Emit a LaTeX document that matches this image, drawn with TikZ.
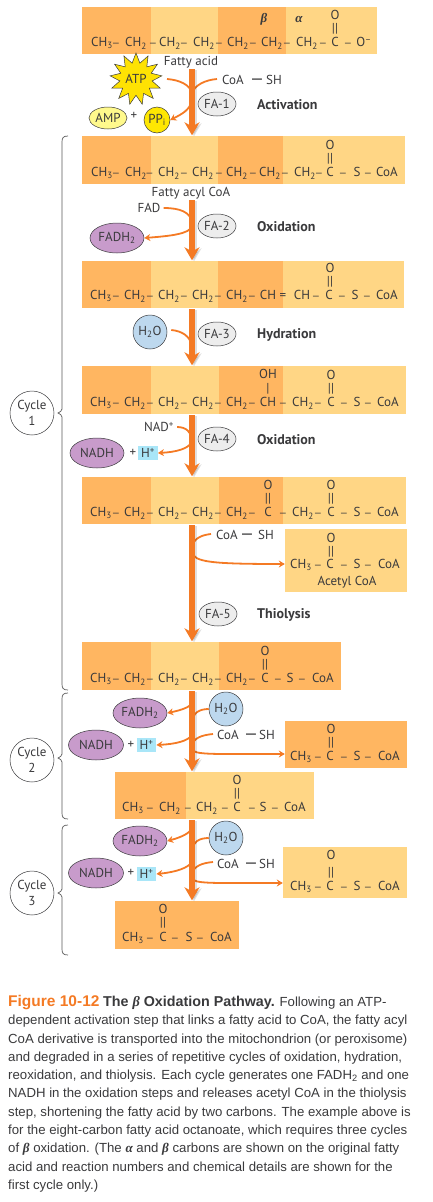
\documentclass[tikz,border=0pt]{standalone}
\usepackage{fontspec}
\setmainfont{PT Sans}
\newfontfamily\capfont{Liberation Sans}
\newfontfamily\grkfont{Liberation Serif}
\usetikzlibrary{arrows.meta,shapes.geometric,fit}
\definecolor{dk}{HTML}{FFB661}
\definecolor{lt}{HTML}{FFD685}
\definecolor{org}{HTML}{F47A24}
\definecolor{ink}{HTML}{3A3A3C}
\definecolor{purp}{HTML}{C89BCB}
\definecolor{wat}{HTML}{BDD8EE}
\definecolor{hpl}{HTML}{A9E6F8}
\newcommand{\chA}{CH\textsubscript{3}}
\newcommand{\chB}{CH\textsubscript{2}}
\newcommand{\bd}{{\fontsize{10}{10}\selectfont —}}
\newcommand{\bdl}{{\fontsize{17}{17}\selectfont —}}
\newcommand{\grk}[1]{{\grkfont\bfseries\itshape #1}}
\newcommand{\atoms}[3]{\foreach \x/\lab [count=\i] in {#3} {\node[atom] (#1-\i) at (\x,#2) {\lab};}}
\newcommand{\oxo}[4][13]{\node[atom] (#2-o) at (#3,#4) {O};\node[atom] (#2-b) at (#3,#4+#1) {||};}
\newcommand{\bandfit}[5]{\node[inner sep=0pt,fit={(#2,#4)(#3,#5)}] (#1) {};}
\newcommand{\mainarr}[2]{\draw[shad] #1 -- #2;\draw[mainarrow] #1 -- #2;}
\newcommand{\bracket}[4]{\draw[brk] (68,#1) .. controls (63,#1) and (62,#1+2) .. (62,#1+6) -- (62,#2-4) .. controls (62,#2-2) and (60,#2-1) .. (58,#2) .. controls (60,#2+1) and (62,#2+2) .. (62,#2+4) -- (62,#3-6) .. controls (62,#3-2) and (63,#3) .. (68,#3);}
\tikzset{
  lf/.style={font=\fontsize{13}{14}\selectfont},
  atom/.style={anchor=base,inner sep=0pt,text=ink,yshift=-.7pt,lf},
  txt/.style={inner sep=0pt,text=ink,lf},
  bold/.style={anchor=west,inner sep=0pt,text=ink,yshift=-1pt,font=\fontsize{14}{15}\selectfont\bfseries},
  fanode/.style={ellipse,draw=ink,line width=.5pt,fill=black!7,minimum width=38pt,minimum height=24pt,inner sep=0pt,text=ink,lf},
  purple/.style={ellipse,draw=ink,line width=.5pt,fill=purp,inner sep=0pt,text=ink,lf},
  water/.style={circle,draw=ink,line width=.5pt,fill=wat,minimum size=34pt,inner sep=0pt,text=ink,lf},
  cyc/.style={circle,draw=ink,line width=.5pt,fill=white,minimum size=44pt,inner sep=0pt,align=center,text=ink,font=\fontsize{13}{16}\selectfont},
  hplus/.style={fill=hpl,inner sep=0pt,text=ink,minimum width=19.5pt,minimum height=14pt,lf},
  mainarrow/.style={draw=org,line width=6pt,shorten <=1pt,shorten >=.5pt,-{Stealth[width=15pt,length=13pt]}},
  shad/.style={draw=black,opacity=.12,line width=6pt,shorten <=1pt,shorten >=.5pt,-{Stealth[width=15pt,length=13pt]},transform canvas={xshift=2pt,yshift=-1pt}},
  side/.style={draw=org,line width=1.8pt},
  sidearrow/.style={draw=org,line width=1.8pt,-{Stealth[width=7pt,length=6pt]}},
  brk/.style={draw=black!65,line width=.7pt},
}
\begin{document}
\begin{tikzpicture}[x=1pt,y=-1pt]
\useasboundingbox (0,0) rectangle (433,1202);
\coordinate (m) at (192,0);
% ---------- bands
\fill[dk] (82,7) rectangle (151,54); \fill[lt] (151,7) rectangle (218,54); \fill[dk] (218,7) rectangle (286,54); \fill[lt] (286,7) rectangle (377,54);
\bandfit{band0}{82}{377}{7}{54}
\fill[dk] (82,136) rectangle (151,184); \fill[lt] (151,136) rectangle (218,184); \fill[dk] (218,136) rectangle (283,184); \fill[lt] (283,136) rectangle (405,184);
\bandfit{band1}{82}{405}{136}{184}
\fill[dk] (82,261) rectangle (151,308); \fill[lt] (151,261) rectangle (218,308); \fill[dk] (218,261) rectangle (283,308); \fill[lt] (283,261) rectangle (404,308);
\bandfit{band2}{82}{404}{261}{308}
\fill[dk] (82,366) rectangle (151,414); \fill[lt] (151,366) rectangle (219,414); \fill[dk] (219,366) rectangle (283,414); \fill[lt] (283,366) rectangle (406,414);
\bandfit{band3}{82}{406}{366}{414}
\fill[dk] (82,477) rectangle (151,524); \fill[lt] (151,477) rectangle (219,524); \fill[dk] (219,477) rectangle (283,524); \fill[lt] (283,477) rectangle (406,524);
\bandfit{band4}{82}{406}{477}{524}
\fill[dk] (82,642) rectangle (151,690); \fill[lt] (151,642) rectangle (219,690); \fill[dk] (219,642) rectangle (341,690);
\bandfit{band5}{82}{341}{642}{690}
\fill[lt] (285,529) rectangle (407,592);
\bandfit{acetyl}{285}{407}{529}{592}
\fill[dk] (285,721) rectangle (407,768);
\bandfit{box2}{285}{407}{721}{768}
\fill[dk] (115,772) rectangle (186,819); \fill[lt] (186,772) rectangle (314,819);
\bandfit{band6}{115}{314}{772}{819}
\fill[lt] (283,847) rectangle (407,898);
\bandfit{box3}{283}{407}{847}{898}
\fill[dk] (115,901) rectangle (239,949);
\bandfit{band7}{115}{239}{901}{949}
% ---------- formulas
\atoms{a0}{46}{102/\chA,116/\bd,136/\chB,153/\bd,170/\chB,184/\bd,204/\chB,219/\bd,238/\chB,253/\bd,272/\chB,287/\bd,307/\chB,323/\bd,335/C,348/\bd,364/O\textsuperscript{--}}
\oxo{a0}{335}{19}
\node[atom,font=\fontsize{13}{14}\selectfont] (beta0) at (264,22) {\grk{β}};
\node[atom,font=\fontsize{13}{14}\selectfont] (alpha0) at (299,22) {\grk{α}};
\atoms{a1}{176}{102/\chA,116/\bd,136/\chB,149.5/\bd,169/\chB,184/\bd,203/\chB,219/\bd,237/\chB,253/\bd,270/\chB,285/\bd,305/\chB,319/\bd,330/C,343/\bd,357/S,368/\bd,387/CoA}
\oxo{a1}{330}{149}
\atoms{a2}{299}{101/\chA,116/\bd,135/\chB,150/\bd,169/\chB,184/\bd,203/\chB,218/\bd,237/\chB,252/\bd,268/CH,283/=,302/CH,316/\bd,329/C,342/\bd,355/S,367/\bd,387/CoA}
\oxo{a2}{330}{272}
\atoms{a3}{406}{101/\chA,116/\bd,135/\chB,150/\bd,169/\chB,184/\bd,203/\chB,218/\bd,237/\chB,252/\bd,268/CH,283/\bd,303/\chB,318/\bd,331/C,344/\bd,357/S,368/\bd,388/CoA}
\oxo{a3}{331}{379}
\node[atom] (a3-oh) at (268,378) {OH};
\node[atom] (a3-bar) at (268,392) {|};
\atoms{a4}{516}{101/\chA,116/\bd,135/\chB,150/\bd,169/\chB,184/\bd,203/\chB,218/\bd,237/\chB,252/\bd,268/C,283/\bd,303/\chB,318/\bd,331/C,344/\bd,357/S,368/\bd,388/CoA}
\oxo{a4k}{268}{489}
\oxo{a4}{331}{489}
\atoms{a5}{682}{101/\chA,116/\bd,135/\chB,150/\bd,169/\chB,184/\bd,203/\chB,218/\bd,237/\chB,252/\bd,265/C,278/\bd,290/S,302/\bd,323/CoA}
\oxo{a5}{265}{655}
\atoms{ac}{568}{301/\chA,318/\bd,330/C,344/\bd,357/S,368/\bd,389/CoA}
\oxo{ac}{331}{542}
\node[txt] (aclab) at (347,582) {Acetyl CoA};
\atoms{b2}{760}{301/\chA,318/\bd,330/C,344/\bd,357/S,368/\bd,389/CoA}
\oxo{b2}{331}{733}
\atoms{a6}{811}{133/\chA,150/\bd,170/\chB,188/\bd,207/\chB,225/\bd,237/C,252/\bd,263/S,275/\bd,295/CoA}
\oxo{a6}{237}{784}
\atoms{b3}{890}{301/\chA,318/\bd,330/C,344/\bd,357/S,368/\bd,389/CoA}
\oxo[17]{b3}{331}{859}
\atoms{a7}{941}{133/\chA,150/\bd,163/C,175/\bd,189/S,200/\bd,221/CoA}
\oxo{a7}{163}{913}
% ---------- labelled parts
\node[txt] (fattyacid) at (191,62) {Fatty acid};
\node[txt] (fattyacyl) at (191,193) {Fatty acyl CoA};
\node[star,star points=13,star point ratio=1.6,draw=ink,line width=.5pt,fill=yellow!85!orange,minimum size=52pt,inner sep=0pt,text=ink,lf] (atp) at (136,79) {ATP};
\atoms{c1}{84}{233/CoA,257/\bdl,274/SH}
\node[ellipse,draw=ink,line width=.5pt,fill=yellow!45,minimum width=38pt,minimum height=22pt,inner sep=0pt,text=ink,lf] (amp) at (108,118) {AMP};
\node[txt] (p1) at (134,116) {+};
\node[circle,draw=ink,line width=.5pt,fill=yellow!90!orange,minimum size=26pt,inner sep=0pt,text=ink,lf] (ppi) at (157,120) {PP\textsubscript{i}};
\node[fanode] (fa1) at (217,104) {FA-1};
\node[bold] (l1) at (257,104) {Activation};
\node[txt] (fad) at (149,208) {FAD};
\node[purple,minimum width=54pt,minimum height=30pt] (fadh) at (117,238) {FADH\textsubscript{2}};
\node[fanode] (fa2) at (217,226) {FA-2};
\node[bold] (l2) at (257,226) {Oxidation};
\node[water] (w1) at (150,332) {H\textsubscript{2}O};
\node[fanode] (fa3) at (217,334) {FA-3};
\node[bold] (l3) at (257,334) {Hydration};
\node[txt] (nad) at (159,427) {NAD\textsuperscript{+}};
\node[purple,minimum width=54pt,minimum height=30pt] (nadh1) at (97,453) {NADH};
\node[txt] (p2) at (133,453) {+};
\node[hplus] (h1) at (148,453) {H\textsuperscript{+}};
\node[fanode] (fa4) at (217,439) {FA-4};
\node[bold] (l4) at (257,439) {Oxidation};
\atoms{c2}{539}{227/CoA,247/\bdl,266/SH}
\node[fanode] (fa5) at (218,614) {FA-5};
\node[bold] (l5) at (257,614) {Thiolysis};
% cycle 2
\node[purple,minimum width=54pt,minimum height=30pt] (fadh2) at (140,713) {FADH\textsubscript{2}};
\node[water] (w2) at (226,709) {H\textsubscript{2}O};
\atoms{c3}{739}{228/CoA,251/\bdl,267/SH}
\node[purple,minimum width=55pt,minimum height=30pt] (nadh2) at (96,745) {NADH};
\node[txt] (p3) at (131,745) {+};
\node[hplus] (h2) at (146.5,745) {H\textsuperscript{+}};
% cycle 3
\node[purple,minimum width=54pt,minimum height=30pt] (fadh3) at (140,841) {FADH\textsubscript{2}};
\node[water] (w3) at (226,838) {H\textsubscript{2}O};
\atoms{c4}{868}{228/CoA,251/\bdl,267/SH}
\node[purple,minimum width=55pt,minimum height=30pt] (nadh3) at (96,873) {NADH};
\node[txt] (p4) at (131,873) {+};
\node[hplus] (h3) at (146.5,874) {H\textsuperscript{+}};
% cycle circles and braces
\bracket{136}{413}{690}{}
\bracket{693}{758}{819}{}
\bracket{825}{893}{955}{}
\node[cyc] (cy1) at (32,413) {Cycle\\1};
\node[cyc] (cy2) at (32,760) {Cycle\\2};
\node[cyc] (cy3) at (32,893) {Cycle\\3};
% ---------- side connectors
\coordinate (cs1) at (217,79);
\coordinate (cs2) at (211,534);
\coordinate (cs3) at (213,734);
\coordinate (cs4) at (213,862);
\draw[side] (167,79) .. controls (180,80) and (190,85) .. (192,93);
\draw[side] (cs1) .. controls (205,80) and (195,85) .. (192,93);
\draw[sidearrow] (192,100) .. controls (190,110) and (182,114) .. (ppi.east);
\draw[side] (fad.east) ++(3,0) .. controls (180,208) and (190,212) .. (192,222);
\draw[sidearrow] (192,226) .. controls (190,234) and (170,236) .. (fadh.east);
\draw[side] (w1.east) ++(4,-2) .. controls (182,331) and (190,336) .. (192,346);
\draw[side] (nad.east) ++(3,0) .. controls (186,427) and (191,432) .. (192,439);
\draw[sidearrow] (192,442) .. controls (188,449) and (176,452) .. (h1.east);
\draw[side] (cs2) .. controls (202,535) and (193,538) .. (192,548);
\draw[sidearrow] (192,552) .. controls (194,562) and (210,564) .. (acetyl.west |- 0,564);
\draw[sidearrow] (192,703) .. controls (190,707) and (182,710) .. (fadh2.east);
\draw[side] (w2.west) .. controls (199,709) and (193,713) .. (192,722);
\draw[side] (cs3) .. controls (202,735) and (193,738) .. (192,746);
\draw[sidearrow] (192,735) .. controls (188,741) and (176,744) .. (h2.east);
\draw[sidearrow] (192,749) .. controls (194,755) and (210,754) .. (box2.west |- 0,754);
\draw[sidearrow] (192,828) .. controls (190,833) and (182,837) .. (fadh3.east);
\draw[side] (w3.west) .. controls (199,838) and (193,842) .. (192,850);
\draw[side] (cs4) .. controls (202,863) and (193,866) .. (192,875);
\draw[sidearrow] (192,862) .. controls (188,868) and (176,872) .. (h3.east);
\draw[sidearrow] (192,878) .. controls (194,884) and (210,883) .. (box3.west |- 0,883);
% ---------- main arrows
\mainarr{(fattyacid.south -| m)}{(band1.north -| m)}
\mainarr{(fattyacyl.south -| m)}{(band2.north -| m)}
\mainarr{(band2.south -| m)}{(band3.north -| m)}
\mainarr{(band3.south -| m)}{(band4.north -| m)}
\mainarr{(band4.south -| m)}{(band5.north -| m)}
\mainarr{(band5.south -| m)}{(band6.north -| m)}
\mainarr{(band6.south -| m)}{(band7.north -| m)}
% ---------- caption
\node[anchor=north west,inner sep=0pt,align=left,text=ink,font=\capfont\fontsize{13.2}{18.3}\selectfont] (caption) at (8,995) {{\bfseries\color{org}\fontsize{15.5}{18.3}\selectfont Figure 10-12}\ {\bfseries\fontsize{14.3}{18.3}\selectfont The \grk{β} Oxidation Pathway.} Following an ATP-\\
dependent activation step that links a fatty acid to CoA, the fatty acyl\\
CoA derivative is transported into the mitochondrion (or peroxisome)\\
and degraded in a series of repetitive cycles of oxidation, hydration,\\
reoxidation, and thiolysis. Each cycle generates one FADH\textsubscript{2} and one\\
NADH in the oxidation steps and releases acetyl CoA in the thiolysis\\
step, shortening the fatty acid by two carbons. The example above is\\
for the eight-carbon fatty acid octanoate, which requires three cycles\\
of \grk{β} oxidation. (The \grk{α} and \grk{β} carbons are shown on the original fatty\\
acid and reaction numbers and chemical details are shown for the\\
first cycle only.)};
\end{tikzpicture}
\end{document}
